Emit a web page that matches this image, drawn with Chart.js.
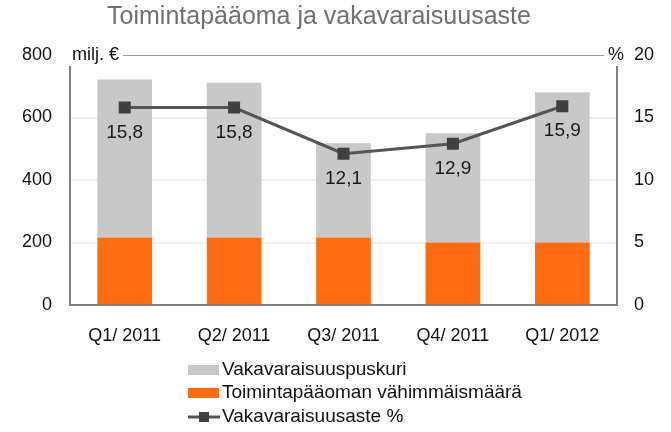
<!DOCTYPE html>
<html>
<head>
<meta charset="utf-8">
<script src="https://cdn.jsdelivr.net/npm/chart.js@4"></script>
<style>
  body { margin: 0; background: #fff; }
</style>
</head>
<body>
<canvas id="capitalChart" width="671" height="432"></canvas>
<script>
const categories = ["Q1/ 2011", "Q2/ 2011", "Q3/ 2011", "Q4/ 2011", "Q1/ 2012"]
const minimumCapital = [216, 216, 216, 200, 200]
const capitalBuffer = [506, 495, 302, 350, 481]
const solvencyRatio = [15.8, 15.8, 12.1, 12.9, 15.9]
const leftTicks = [0, 200, 400, 600, 800]
const rightTicks = [0, 5, 10, 15, 20]

const FONT = "'Liberation Sans', Arial, sans-serif"

// title, unit labels, axis lines, value labels and legend
const overlay = {
  id: 'overlay',
  afterDraw(chart) {
    const ctx = chart.ctx
    const area = chart.chartArea
    ctx.save()

    ctx.fillStyle = '#707070'
    ctx.font = '25px ' + FONT
    ctx.textAlign = 'center'
    ctx.textBaseline = 'middle'
    ctx.fillText('Toimintapääoma ja vakavaraisuusaste', 319, 17)

    // unit labels sitting on the top line
    ctx.font = '18px ' + FONT
    ctx.fillStyle = '#111'
    ctx.textAlign = 'left'
    const unitW = ctx.measureText('milj. €').width
    ctx.fillText('milj. €', area.left + 2, area.top)
    ctx.textAlign = 'center'
    const pctW = ctx.measureText('%').width
    ctx.fillText('%', area.right - 1, area.top)

    ctx.strokeStyle = '#999'
    ctx.lineWidth = 1
    ctx.beginPath()
    ctx.moveTo(area.left + unitW + 6, area.top + 0.5)
    ctx.lineTo(area.right - pctW / 2 - 5, area.top + 0.5)
    ctx.stroke()

    ctx.strokeStyle = '#808080'
    ctx.lineWidth = 2
    ctx.beginPath()
    ctx.moveTo(area.left, area.top + 11)
    ctx.lineTo(area.left, area.bottom)
    ctx.lineTo(area.right, area.bottom)
    ctx.lineTo(area.right, area.top + 11)
    ctx.stroke()

    // values under the line markers
    const meta = chart.getDatasetMeta(2)
    ctx.font = '19px ' + FONT
    ctx.fillStyle = '#1a1a1a'
    ctx.textAlign = 'center'
    meta.data.forEach((pt, i) => {
      const txt = solvencyRatio[i].toFixed(1).replace('.', ',')
      ctx.fillText(txt, pt.x, pt.y + 25)
    })

    // legend
    const ds = chart.data.datasets
    const rows = [ds[1], ds[0], ds[2]]
    const rowY = [370, 393, 417]
    ctx.font = '19px ' + FONT
    ctx.textAlign = 'left'
    rows.forEach((d, i) => {
      const y = rowY[i]
      if (d.type === 'line') {
        ctx.strokeStyle = d.borderColor
        ctx.lineWidth = 3
        ctx.beginPath()
        ctx.moveTo(188, y)
        ctx.lineTo(220, y)
        ctx.stroke()
        ctx.fillStyle = d.pointBackgroundColor
        ctx.fillRect(199, y - 5, 10, 10)
      } else {
        ctx.fillStyle = d.backgroundColor
        ctx.fillRect(188, y - 5, 31, 10)
      }
      ctx.fillStyle = '#111'
      ctx.fillText(d.label, 222, y)
    })
    ctx.restore()
  }
}

const ctx = document.getElementById('capitalChart')
new Chart(ctx, {
  type: 'bar',
  data: {
    labels: categories,
    datasets: [
      {
        label: 'Toimintapääoman vähimmäismäärä',
        data: minimumCapital,
        backgroundColor: '#ff6c12',
        barPercentage: 0.5,
        categoryPercentage: 1,
        yAxisID: 'y',
        order: 2
      },
      {
        label: 'Vakavaraisuuspuskuri',
        data: capitalBuffer,
        backgroundColor: '#c8c8c8',
        barPercentage: 0.5,
        categoryPercentage: 1,
        yAxisID: 'y',
        order: 2
      },
      {
        type: 'line',
        label: 'Vakavaraisuusaste %',
        data: solvencyRatio,
        borderColor: '#555555',
        borderWidth: 3,
        pointStyle: 'rect',
        pointRadius: 8.5,
        pointBackgroundColor: '#404040',
        pointBorderColor: '#404040',
        pointBorderWidth: 0,
        yAxisID: 'y1',
        order: 1
      }
    ]
  },
  options: {
    responsive: false,
    animation: false,
    layout: {
      padding: { top: 55, left: 0, right: 0, bottom: 0 }
    },
    plugins: {
      legend: { display: false },
      tooltip: { enabled: false }
    },
    scales: {
      x: {
        stacked: true,
        grid: { display: false },
        border: { display: false },
        ticks: {
          padding: 12,
          color: '#111',
          font: { family: FONT, size: 18 }
        },
        afterFit(scale) { scale.height = 127 }
      },
      y: {
        stacked: true,
        position: 'left',
        min: 0,
        max: 800,
        afterBuildTicks(scale) { scale.ticks = leftTicks.map(v => ({ value: v })) },
        grid: {
          drawTicks: false,
          lineWidth: 2,
          color: c => (c.tick.value === 0 || c.tick.value === 800) ? 'rgba(0,0,0,0)' : '#efefef'
        },
        border: { display: false },
        ticks: {
          padding: 18,
          color: '#111',
          font: { family: FONT, size: 18 }
        },
        afterFit(scale) { scale.width = 70 }
      },
      y1: {
        position: 'right',
        min: 0,
        max: 20,
        afterBuildTicks(scale) { scale.ticks = rightTicks.map(v => ({ value: v })) },
        grid: { drawOnChartArea: false, drawTicks: false },
        border: { display: false },
        ticks: {
          padding: 17,
          color: '#111',
          font: { family: FONT, size: 18 }
        },
        afterFit(scale) { scale.width = 54 }
      }
    }
  },
  plugins: [overlay]
})
</script>
</body>
</html>
